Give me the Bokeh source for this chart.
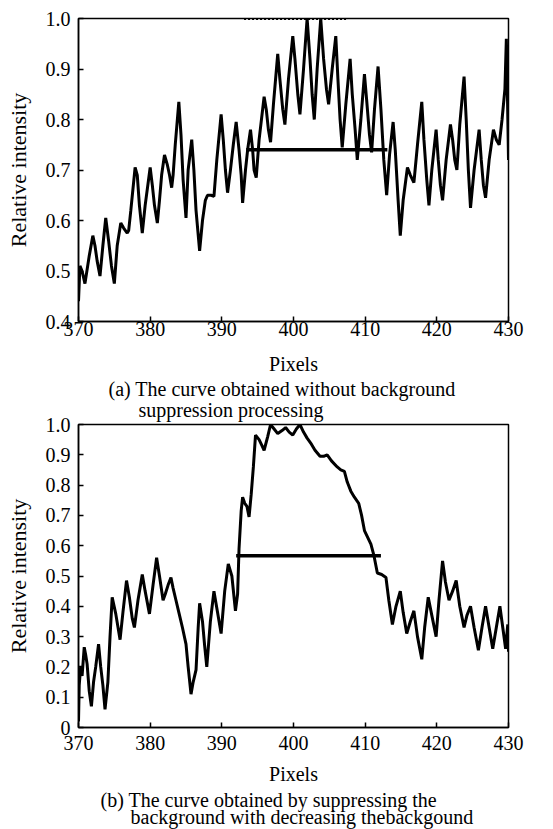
from bokeh.plotting import figure
from bokeh.layouts import column
from bokeh.models import Range1d, FixedTicker, Title
from bokeh.embed import file_html
from bokeh.resources import INLINE

FONT = "Liberation Serif"

# ---------------- data ----------------
x_ticks = [370, 380, 390, 400, 410, 420, 430]
x_tick_labels = ["370", "380", "390", "400", "410", "420", "430"]

ya_ticks = [0.4, 0.5, 0.6, 0.7, 0.8, 0.9, 1.0]
ya_tick_labels = ["0.4", "0.5", "0.6", "0.7", "0.8", "0.9", "1.0"]

yb_ticks = [0.0, 0.1, 0.2, 0.3, 0.4, 0.5, 0.6, 0.7, 0.8, 0.9, 1.0]
yb_tick_labels = ["0", "0.1", "0.2", "0.3", "0.4", "0.5", "0.6", "0.7", "0.8", "0.9", "1.0"]

# (a) curve without background suppression
pix_a = [370.0, 370.2, 370.5, 370.9, 371.5, 372.0, 372.3, 372.6, 373.0, 373.4, 373.8, 374.2,
         374.6, 375.0, 375.4, 375.9, 376.3, 376.8, 377.0, 377.3, 377.9, 378.2, 378.5, 378.9,
         379.3, 380.0, 380.3, 380.6, 381.0, 381.3, 381.6, 382.0, 382.4, 382.7, 383.0, 383.2,
         383.5, 384.0, 384.3, 384.6, 385.0, 385.3, 385.8, 386.1, 386.4, 386.9, 387.3, 387.7,
         388.0, 388.5, 388.9, 389.3, 389.9, 390.2, 390.5, 390.8, 391.2, 391.6, 392.0, 392.4,
         392.7, 392.9, 393.3, 393.6, 394.0, 394.3, 394.5, 394.8, 395.2, 395.9, 396.2, 396.5,
         396.8, 397.2, 397.8, 398.1, 398.5, 398.8, 399.3, 399.9, 400.2, 400.6, 400.9, 401.4,
         401.9, 402.3, 402.6, 402.9, 403.3, 403.8, 404.2, 404.6, 404.9, 405.4, 405.9, 406.2,
         406.5, 406.8, 407.3, 407.9, 408.2, 408.6, 408.9, 409.4, 409.9, 410.2, 410.6, 410.9,
         411.3, 411.8, 412.2, 412.6, 413.0, 413.4, 413.9, 414.2, 414.6, 414.9, 415.3, 415.9,
         416.3, 416.8, 417.3, 417.9, 418.2, 418.6, 418.9, 419.3, 419.9, 420.2, 420.5, 420.8,
         421.3, 421.9, 422.2, 422.5, 422.8, 423.2, 423.8, 424.1, 424.4, 424.7, 425.2, 425.9,
         426.2, 426.5, 426.8, 427.3, 427.9, 428.3, 428.7, 429.1, 429.5, 429.7, 429.85, 430.0]
int_a = [0.44, 0.51, 0.50, 0.475, 0.53, 0.57, 0.55, 0.52, 0.49, 0.55, 0.605, 0.56,
         0.51, 0.475, 0.55, 0.595, 0.585, 0.575, 0.58, 0.62, 0.705, 0.69, 0.63, 0.575,
         0.63, 0.705, 0.67, 0.63, 0.595, 0.64, 0.69, 0.73, 0.71, 0.69, 0.665, 0.69,
         0.75, 0.835, 0.77, 0.68, 0.605, 0.70, 0.76, 0.70, 0.62, 0.54, 0.60, 0.64,
         0.65, 0.65, 0.648, 0.72, 0.81, 0.76, 0.70, 0.655, 0.70, 0.75, 0.795, 0.74,
         0.69, 0.635, 0.70, 0.74, 0.78, 0.74, 0.70, 0.685, 0.76, 0.845, 0.82, 0.78,
         0.755, 0.83, 0.93, 0.88, 0.82, 0.79, 0.88, 0.965, 0.92, 0.85, 0.81, 0.90,
         1.0, 0.92, 0.85, 0.80, 0.90, 1.0, 0.92, 0.86, 0.83, 0.90, 0.965, 0.88,
         0.80, 0.745, 0.83, 0.92, 0.85, 0.78, 0.72, 0.80, 0.89, 0.84, 0.77, 0.735,
         0.82, 0.905, 0.82, 0.72, 0.65, 0.73, 0.795, 0.74, 0.64, 0.57, 0.64, 0.705,
         0.69, 0.675, 0.75, 0.835, 0.76, 0.68, 0.63, 0.70, 0.78, 0.72, 0.67, 0.64,
         0.72, 0.79, 0.76, 0.72, 0.70, 0.79, 0.885, 0.80, 0.70, 0.625, 0.70, 0.78,
         0.72, 0.67, 0.645, 0.72, 0.78, 0.76, 0.75, 0.80, 0.86, 0.96, 0.85, 0.72]
fwhm_a_x = [393.4, 413.1]
fwhm_a_y = [0.74, 0.74]
clip_a_x = [393.1, 407.5]
clip_a_y = [0.999, 0.999]

# (b) curve with background suppression
pix_b = [370.0, 370.1, 370.3, 370.5, 370.8, 371.0, 371.2, 371.5, 371.8, 372.1, 372.4, 372.8,
         373.1, 373.4, 373.7, 374.1, 374.4, 374.7, 375.2, 375.8, 376.2, 376.7, 377.1, 377.5,
         377.8, 378.3, 378.9, 379.3, 379.9, 380.4, 380.9, 381.3, 381.8, 382.1, 382.5, 382.9,
         383.2, 383.6, 384.0, 384.5, 385.0, 385.3, 385.7, 386.0, 386.4, 386.7, 386.9, 387.3,
         387.6, 387.9, 388.4, 388.9, 389.4, 389.9, 390.4, 390.9, 391.4, 391.9, 392.2, 392.4,
         392.7, 392.9, 393.2, 393.5, 393.8, 394.1, 394.4, 394.7, 395.2, 395.6, 395.9, 396.4,
         396.8, 397.3, 397.8, 398.4, 398.9, 399.4, 399.9, 400.4, 400.9, 401.4, 401.9, 402.5,
         403.0, 403.7, 404.2, 404.7, 405.3, 406.1, 406.6, 407.1, 407.5, 408.0, 408.5, 409.1,
         409.5, 409.9, 410.4, 410.8, 411.2, 411.7, 412.3, 412.9, 413.3, 413.8, 414.3, 414.9,
         415.3, 415.8, 416.3, 416.8, 417.3, 417.9, 418.3, 418.8, 419.3, 419.9, 420.3, 420.8,
         421.2, 421.7, 422.2, 422.7, 423.2, 423.8, 424.2, 424.7, 425.2, 425.8, 426.3, 426.8,
         427.3, 427.8, 428.3, 428.8, 429.2, 429.6, 429.9, 430.0]
int_b = [0.02, 0.14, 0.20, 0.17, 0.265, 0.24, 0.21, 0.12, 0.07, 0.15, 0.20, 0.275,
         0.20, 0.14, 0.06, 0.15, 0.30, 0.43, 0.375, 0.29, 0.38, 0.485, 0.43, 0.36,
         0.33, 0.42, 0.505, 0.45, 0.375, 0.47, 0.56, 0.50, 0.42, 0.44, 0.47, 0.495,
         0.46, 0.42, 0.38, 0.33, 0.275, 0.20, 0.11, 0.15, 0.19, 0.33, 0.41, 0.35,
         0.27, 0.20, 0.35, 0.45, 0.38, 0.31, 0.45, 0.54, 0.50, 0.385, 0.44, 0.59,
         0.715, 0.76, 0.74, 0.73, 0.695, 0.77, 0.86, 0.965, 0.95, 0.93, 0.915, 0.96,
         1.0, 0.985, 0.97, 0.98, 0.99, 0.975, 0.965, 0.985, 1.0, 0.975, 0.955, 0.935,
         0.915, 0.895, 0.895, 0.90, 0.88, 0.86, 0.85, 0.845, 0.81, 0.78, 0.76, 0.74,
         0.70, 0.65, 0.625, 0.605, 0.57, 0.51, 0.505, 0.495, 0.42, 0.34, 0.40, 0.45,
         0.38, 0.31, 0.35, 0.385, 0.30, 0.225, 0.33, 0.43, 0.37, 0.30, 0.42, 0.55,
         0.48, 0.42, 0.45, 0.485, 0.40, 0.33, 0.37, 0.40, 0.33, 0.255, 0.33, 0.40,
         0.33, 0.26, 0.33, 0.40, 0.33, 0.26, 0.34, 0.25]
fwhm_b_x = [392.0, 412.2]
fwhm_b_y = [0.567, 0.567]

caption_a = ["(a) The curve obtained without background", "suppression processing"]
caption_b = ["(b) The curve obtained by suppressing the", "background with decreasing thebackgound"]
x_label = "Pixels"
y_label = "Relative intensity"


def make_panel(height, top, bottom, y_start, y_ticks, y_labels, x_std, xlab_std):
    p = figure(width=553, height=height, output_backend="svg", toolbar_location=None,
               x_range=Range1d(370, 430), y_range=Range1d(y_start, 1.0),
               min_border_left=78, min_border_right=45,
               min_border_top=top, min_border_bottom=bottom)
    p.grid.visible = False
    p.outline_line_color = "black"
    p.outline_line_width = 1.5
    p.background_fill_color = "white"
    p.border_fill_color = "white"

    p.xaxis.ticker = FixedTicker(ticks=x_ticks)
    p.xaxis.major_label_overrides = dict(zip(x_ticks, x_tick_labels))
    p.yaxis.ticker = FixedTicker(ticks=y_ticks)
    p.yaxis.major_label_overrides = dict(zip(y_ticks, y_labels))
    for ax in (p.xaxis[0], p.yaxis[0]):
        ax.axis_line_color = "black"
        ax.axis_line_width = 1.5
        ax.major_tick_line_color = "black"
        ax.major_tick_line_width = 1.5
        ax.major_tick_in = 5
        ax.major_tick_out = 0
        ax.minor_tick_line_color = None
        ax.major_label_text_font = FONT
        ax.major_label_text_font_size = "20px"
        ax.major_label_text_color = "black"
        ax.axis_label_text_font = FONT
        ax.axis_label_text_font_style = "normal"
        ax.axis_label_text_color = "black"
    p.xaxis.major_label_standoff = x_std
    p.yaxis.major_label_standoff = 8
    p.xaxis.axis_label = x_label
    p.xaxis.axis_label_text_font_size = "20px"
    p.xaxis.axis_label_standoff = xlab_std
    p.yaxis.axis_label = y_label
    p.yaxis.axis_label_text_font_size = "22px"
    p.yaxis.axis_label_standoff = 12
    return p


def caption_title(text, offset, standoff):
    return Title(text=text, align="left", offset=offset, standoff=standoff,
                 text_font=FONT, text_font_size="20px", text_font_style="normal",
                 text_color="black")


# panel (a): canvas 0..377
pa = make_panel(377, 18, 56, 0.4, ya_ticks, ya_tick_labels, 0, 14)
pa.line(pix_a, int_a, line_color="black", line_width=3)
pa.line(fwhm_a_x, fwhm_a_y, line_color="black", line_width=3.5)
pa.line(clip_a_x, clip_a_y, line_color="black", line_width=2, line_dash="2 2")

# panel (b): canvas 377..829; its top margin carries caption (a), bottom caption (b)
pb = make_panel(452, 47, 102, 0.0, yb_ticks, yb_tick_labels, 8, 10)
pb.line(pix_b, int_b, line_color="black", line_width=3)
pb.line(fwhm_b_x, fwhm_b_y, line_color="black", line_width=3.5)
pb.add_layout(caption_title(caption_a[1], 60, 8), "above")
pb.add_layout(caption_title(caption_a[0], 30, -15), "above")
pb.add_layout(caption_title(caption_b[0], 22, -1), "below")
pb.add_layout(caption_title(caption_b[1], 52, -14), "below")

layout = column(pa, pb, spacing=0)
open("out.html", "w").write(file_html(layout, INLINE))
